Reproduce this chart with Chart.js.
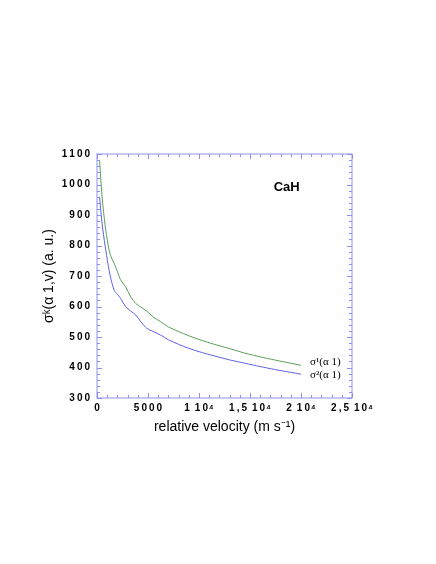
<!DOCTYPE html>
<html>
<head>
<meta charset="utf-8">
<script src="https://cdn.jsdelivr.net/npm/chart.js@4"></script>
<style>
  html, body { margin: 0; padding: 0; background: #fff; }
  canvas { display: block; }
</style>
</head>
<body>
<canvas id="myChart" width="436" height="564"></canvas>
<script>
// relative velocity (m/s)
const velocity = [250, 500, 800, 1100, 1300, 1700, 2000, 2300, 2800, 3300, 3800, 4300, 4900, 5500, 6200, 7000, 8000, 9000, 10000, 11500, 13000, 14500, 16000, 17500, 19000, 20000]
// sigma^1(alpha 1), green
const sigma1 = [1079, 960, 865, 800, 770, 740, 715, 688, 665, 632, 610, 598, 584, 566, 551, 533, 518, 504, 492, 476, 462, 447, 435, 424, 414, 407]
// sigma^2(alpha 1), blue
const sigma2 = [960, 872, 798, 735, 700, 652, 640, 627, 600, 585, 572, 550, 528, 518, 507, 491, 476, 463, 452, 438, 425, 414, 403, 393, 384, 378]

const seriesNames = ['σ¹(α 1)', 'σ²(α 1)']
const xTickText = { 0: '0', 5000: '5000', 10000: '1|10⁴', 15000: '1,5|10⁴', 20000: '2|10⁴', 25000: '2,5|10⁴' }

const frameColor = '#8f8ff2'
const green = '#5a9e5a'
const blue = '#6060e8'

const spaced = s => String(s).split('').join('\u2009')
const xLabel = s => s.split('|').map(spaced).join('\u2002').replace('\u2009⁴', '\u200a⁴')

// frame, inward ticks on all four sides, labels and the "CaH" tag
const framePlugin = {
  id: 'frame',
  afterDraw(chart) {
    const { ctx, chartArea: a, scales: { x, y } } = chart
    ctx.save()
    ctx.strokeStyle = frameColor
    ctx.lineWidth = 1
    ctx.strokeRect(a.left, a.top, a.right - a.left, a.bottom - a.top)
    ctx.beginPath()
    for (let v = 0; v <= 25000; v += 1000) {
      const px = Math.round(x.getPixelForValue(v)) + 0.5
      const len = v % 5000 === 0 ? 5 : 3
      ctx.moveTo(px, a.bottom); ctx.lineTo(px, a.bottom - len)
      ctx.moveTo(px, a.top); ctx.lineTo(px, a.top + len)
    }
    for (let v = 300; v <= 1100; v += 20) {
      const py = Math.round(y.getPixelForValue(v)) + 0.5
      const len = v % 100 === 0 ? 5 : 3
      ctx.moveTo(a.left, py); ctx.lineTo(a.left + len, py)
      ctx.moveTo(a.right, py); ctx.lineTo(a.right - len, py)
    }
    ctx.stroke()

    // series labels next to the curve ends
    ctx.fillStyle = '#000'
    ctx.font = '11px "Liberation Serif", "Times New Roman", serif'
    ctx.textBaseline = 'middle'
    ctx.textAlign = 'left'
    const last = velocity.length - 1
    const ex = x.getPixelForValue(velocity[last]) + 9
    ctx.fillText(seriesNames[0], ex, y.getPixelForValue(sigma1[last]) - 3)
    ctx.fillText(seriesNames[1], ex, y.getPixelForValue(sigma2[last]) + 1)

    ctx.font = 'bold 13px "Liberation Sans", Arial, sans-serif'
    ctx.textAlign = 'center'
    ctx.fillText('CaH', x.getPixelForValue(18600), y.getPixelForValue(990))
    ctx.restore()
  }
}

const ctx = document.getElementById('myChart').getContext('2d')

new Chart(ctx, {
  type: 'line',
  data: {
    datasets: [{
      label: seriesNames[0],
      data: velocity.map((v, i) => ({ x: v, y: sigma1[i] })),
      borderColor: green,
      borderWidth: 1,
      pointRadius: 0,
      tension: 0.3,
    }, {
      label: seriesNames[1],
      data: velocity.map((v, i) => ({ x: v, y: sigma2[i] })),
      borderColor: blue,
      borderWidth: 1,
      pointRadius: 0,
      tension: 0.3,
    }],
  },
  options: {
    responsive: false,
    animation: false,
    devicePixelRatio: 1,
    layout: { padding: { left: 0, top: 154, right: 84, bottom: 0 } },
    plugins: {
      legend: { display: false },
      tooltip: { enabled: false },
    },
    scales: {
      x: {
        type: 'linear',
        min: 0,
        max: 25000,
        grid: { display: false, drawTicks: false },
        border: { display: false },
        ticks: {
          stepSize: 5000,
          autoSkip: false,
          maxRotation: 0,
          padding: 4,
          color: '#000',
          font: { family: '"Liberation Sans", Arial, sans-serif', size: 10, weight: 'bold' },
          callback: v => xTickText[v] !== undefined ? xLabel(xTickText[v]) : '',
        },
        title: {
          display: true,
          text: 'relative velocity (m s⁻¹)',
          color: '#000',
          font: { family: '"Liberation Sans", Arial, sans-serif', size: 14 },
          padding: { top: 0, bottom: 128.6 },
        },
        afterFit(scale) { scale.height = 166 },
      },
      y: {
        min: 300,
        max: 1100,
        grid: { display: false, drawTicks: false },
        border: { display: false },
        ticks: {
          stepSize: 100,
          padding: 7,
          color: '#000',
          font: { family: '"Liberation Sans", Arial, sans-serif', size: 10, weight: 'bold' },
          callback: v => spaced(v),
        },
        title: {
          display: true,
          text: 'σᵏ(α 1,v) (a. u.)',
          color: '#000',
          font: { family: '"Liberation Sans", Arial, sans-serif', size: 14 },
          padding: { top: 40.6, bottom: 0 },
        },
        afterFit(scale) { scale.width = 97 },
      },
    },
  },
  plugins: [framePlugin],
})
</script>
</body>
</html>
